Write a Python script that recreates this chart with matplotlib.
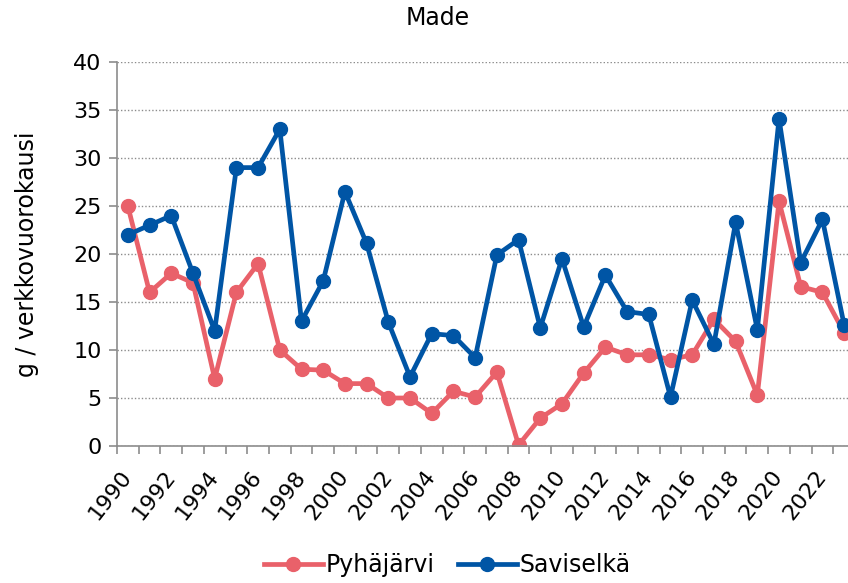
import numpy as np
import matplotlib.pyplot as plt
import matplotlib.transforms as mtransforms
from matplotlib import rcParams

rcParams['font.family'] = 'DejaVu Sans'
rcParams['font.size'] = 16

years = list(range(1990, 2024))
pyhajarvi = [25.0, 16.0, 18.0, 17.0, 7.0, 16.0, 19.0, 10.0, 8.0, 7.9,
             6.5, 6.5, 5.0, 5.0, 3.4, 5.7, 5.1, 7.7, 0.1, 2.9,
             4.4, 7.6, 10.3, 9.5, 9.5, 9.0, 9.5, 13.2, 10.9, 5.3,
             25.5, 16.6, 16.0, 11.8]
saviselka = [22.0, 23.0, 24.0, 18.0, 12.0, 29.0, 29.0, 33.0, 13.0, 17.2,
             26.5, 21.1, 12.9, 7.2, 11.7, 11.5, 9.2, 19.9, 21.5, 12.3,
             19.5, 12.4, 17.8, 14.0, 13.7, 5.1, 15.2, 10.6, 23.3, 12.1,
             34.1, 19.1, 23.6, 12.6]

red = '#E9616A'
blue = '#0055A5'
grey = '#8C8C8C'

fig = plt.figure(figsize=(8.48, 5.83), dpi=100)
# axes runs a bit past the right edge, like the source picture
ax = fig.add_axes([117/848, 137/583, 738/848, 384/583])

x = np.arange(len(years))
ax.plot(x, pyhajarvi, color=red, lw=3.4, marker='o', ms=10, label='Pyhäjärvi')
ax.plot(x, saviselka, color=blue, lw=3.4, marker='o', ms=10, label='Saviselkä')

ax.set_xlim(-0.5, len(years) - 0.5)
ax.set_ylim(0, 40)
ax.set_yticks(range(0, 41, 5))
ax.yaxis.grid(True, linestyle=(0, (1, 1.5)), color=grey, lw=1)
ax.set_axisbelow(True)

# labels every other year, tick marks on category boundaries
ax.set_xticks(x[::2])
ax.set_xticklabels([str(y) for y in years[::2]], rotation=52, ha='right',
                   va='center', rotation_mode='anchor', fontsize=16)
shift = mtransforms.ScaledTranslation(7/100, 0, fig.dpi_scale_trans)
for lab in ax.get_xticklabels():
    lab.set_transform(lab.get_transform() + shift)
ax.set_xticks(np.arange(-0.5, len(years), 1), minor=True)
ax.tick_params(axis='x', which='major', length=0, pad=19)
ax.tick_params(axis='x', which='minor', length=6, color=grey, width=1.2)
ax.tick_params(axis='y', length=6, color=grey, width=1.2, pad=5)

for s in ['top', 'right']:
    ax.spines[s].set_visible(False)
for s in ['left', 'bottom']:
    ax.spines[s].set_color(grey)
    ax.spines[s].set_linewidth(1.2)

ax.set_ylabel('g / verkkovuorokausi', fontsize=17)
ax.yaxis.set_label_coords(-78/738, 0.5)
fig.text(438/848, 1 - 18/583, 'Made', ha='center', va='center', fontsize=17)

fig.legend(loc='center', bbox_to_anchor=(447/848, 1 - 565/583), ncol=2,
           frameon=False, fontsize=17, handlelength=2.5, handletextpad=0.1,
           columnspacing=1.0)

plt.savefig('out.png', dpi=100)
